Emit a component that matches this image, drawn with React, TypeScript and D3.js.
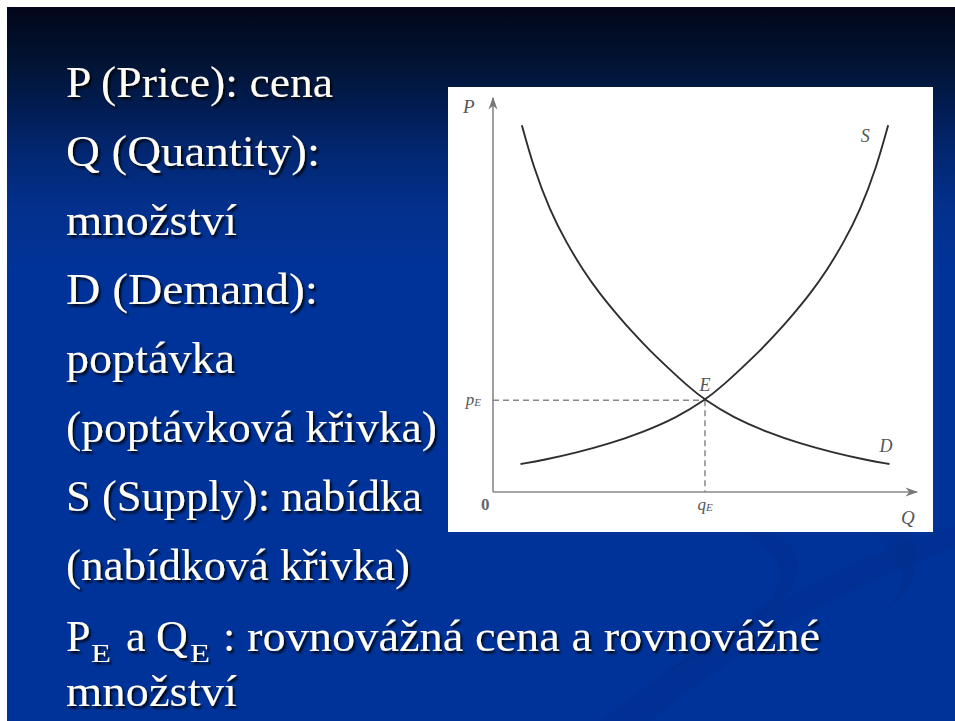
import React from 'react';
import * as d3 from 'd3';

// slide text, one entry per line
const bulletLines = [
  'P (Price): cena',
  'Q (Quantity):',
  'množství',
  'D (Demand):',
  'poptávka',
  '(poptávková křivka)',
  'S (Supply): nabídka',
  '(nabídková křivka)',
];
const lastLine = 'množství';
const equilibriumText = 'rovnovážná cena a rovnovážné';

// curves (quantity, price on a 0..10 grid)
const demandQ = [0.68, 0.95, 1.34, 1.74, 2.13, 2.52, 2.92, 3.31, 3.7, 4.1, 4.57, 5.0, 5.67, 6.46, 7.24, 8.03, 8.81, 9.35];
const demandP = [9.31, 8.26, 7.15, 6.31, 5.62, 5.03, 4.51, 4.03, 3.59, 3.18, 2.71, 2.33, 1.89, 1.52, 1.23, 1.0, 0.81, 0.71];
const supplyQ = [0.65, 1.19, 1.97, 2.76, 3.54, 4.33, 5.0, 5.43, 5.9, 6.3, 6.69, 7.08, 7.48, 7.87, 8.26, 8.66, 9.05, 9.32];
const supplyP = [0.71, 0.81, 1.0, 1.23, 1.52, 1.89, 2.33, 2.71, 3.18, 3.59, 4.03, 4.51, 5.03, 5.62, 6.31, 7.15, 8.26, 9.31];
const qE = 5.0;
const pE = 2.33;

const W = 955;
const H = 721;
const SERIF = 'Liberation Serif, Times New Roman, serif';

export default function App() {
  const x = d3.scaleLinear().domain([0, 10]).range([493, 917]);
  const y = d3.scaleLinear().domain([0, 10]).range([492, 98]);

  const line = d3
    .line<[number, number]>()
    .x((d) => x(d[0]))
    .y((d) => y(d[1]))
    .curve(d3.curveBasis);

  const demand = demandQ.map((q, i) => [q, demandP[i]] as [number, number]);
  const supply = supplyQ.map((q, i) => [q, supplyP[i]] as [number, number]);

  const lineWidths = [267, 254, 171, 252, 169, 371, 356, 344];

  return (
    <svg width={W} height={H} style={{ position: 'absolute', left: 0, top: 0 }}>
      <defs>
        <linearGradient id="bg" gradientUnits="userSpaceOnUse" x1="0" y1="7" x2="0" y2="721">
          <stop offset="0" stopColor="#04051a" />
          <stop offset="0.02" stopColor="#020a20" />
          <stop offset="0.08" stopColor="#011434" />
          <stop offset="0.14" stopColor="#021c52" />
          <stop offset="0.21" stopColor="#022874" />
          <stop offset="0.28" stopColor="#03308c" />
          <stop offset="0.37" stopColor="#003399" />
          <stop offset="1" stopColor="#003399" />
        </linearGradient>
        <filter id="shadow" x="-5%" y="-20%" width="115%" height="150%">
          <feDropShadow dx="2" dy="2.5" stdDeviation="1" floodColor="#000" floodOpacity="0.85" />
        </filter>
        <marker id="arrow" viewBox="0 0 10 10" refX="9" refY="5" markerWidth="8" markerHeight="8" orient="auto">
          <path d="M0,1.5 L10,5 L0,8.5 L3,5 Z" fill="#777" />
        </marker>
      </defs>

      <rect x={0} y={0} width={W} height={H} fill="#fff" />
      <rect x={7} y={7} width={W - 7} height={H - 7} fill="url(#bg)" />

      {/* faint swooshes in the lower right */}
      <path d="M600,721 Q770,585 955,525 L955,548 Q800,600 650,721 Z" fill="#002e8e" opacity={0.5} />
      <path d="M740,532 Q800,560 770,600 Q720,640 650,680 Q760,625 790,590 Q815,555 770,532 Z" fill="#002e8e" opacity={0.5} />
      <path d="M870,532 Q925,570 885,610 Q930,580 910,532 Z" fill="#002e8e" opacity={0.5} />

      {/* left text */}
      <g fontFamily={SERIF} fontSize={44} fill="#fffdf4" filter="url(#shadow)">
        {bulletLines.map((t, i) => (
          <text key={i} x={66} y={97 + i * 69} textLength={lineWidths[i]} lengthAdjust="spacingAndGlyphs">
            {t}
          </text>
        ))}
        <text x={66} y={651}>P</text>
        <text x={91} y={662} fontSize={26} textLength={20} lengthAdjust="spacingAndGlyphs">E</text>
        <text x={126} y={651}>a</text>
        <text x={156} y={651}>Q</text>
        <text x={190} y={662} fontSize={26} textLength={20} lengthAdjust="spacingAndGlyphs">E</text>
        <text x={223} y={651}>:</text>
        <text x={247} y={651} textLength={573} lengthAdjust="spacingAndGlyphs">
          {equilibriumText}
        </text>
        <text x={66} y={706} textLength={171} lengthAdjust="spacingAndGlyphs">
          {lastLine}
        </text>
      </g>

      {/* chart */}
      <rect x={448} y={87} width={485} height={445} fill="#fff" />
      <line x1={x(0)} y1={y(0)} x2={x(10)} y2={y(0)} stroke="#888" strokeWidth={1.6} markerEnd="url(#arrow)" />
      <line x1={x(0)} y1={y(0)} x2={x(0)} y2={y(10)} stroke="#888" strokeWidth={1.6} markerEnd="url(#arrow)" />
      <line x1={x(0)} y1={y(pE)} x2={x(qE)} y2={y(pE)} stroke="#888" strokeWidth={1.5} strokeDasharray="6,4" />
      <line x1={x(qE)} y1={y(pE)} x2={x(qE)} y2={y(0)} stroke="#888" strokeWidth={1.5} strokeDasharray="6,4" />
      <path d={line(demand) || ''} fill="none" stroke="#2e2e2e" strokeWidth={1.9} />
      <path d={line(supply) || ''} fill="none" stroke="#2e2e2e" strokeWidth={1.9} />

      <g fontFamily={SERIF} fontStyle="italic" fill="#555">
        <text x={x(0) - 30} y={y(10) + 15} fontSize={19}>P</text>
        <text x={x(10) - 16} y={y(0) + 32} fontSize={19}>Q</text>
        <text x={x(0) - 12} y={y(0) + 18} fontSize={17} fontStyle="normal" fontWeight="bold" fill="#666">0</text>
        <text x={x(9.05) - 16} y={y(9.31) + 17} fontSize={18}>S</text>
        <text x={x(9.35) - 10} y={y(0.71) - 12} fontSize={18}>D</text>
        <text x={x(qE)} y={y(pE) - 9} fontSize={18} textAnchor="middle">E</text>
        <text x={x(0) - 12} y={y(pE) + 5} fontSize={17} textAnchor="end">
          p<tspan fontSize={11} dy={1}>E</tspan>
        </text>
        <text x={x(qE)} y={y(0) + 18} fontSize={17} textAnchor="middle">
          q<tspan fontSize={11} dy={1}>E</tspan>
        </text>
      </g>
    </svg>
  );
}
